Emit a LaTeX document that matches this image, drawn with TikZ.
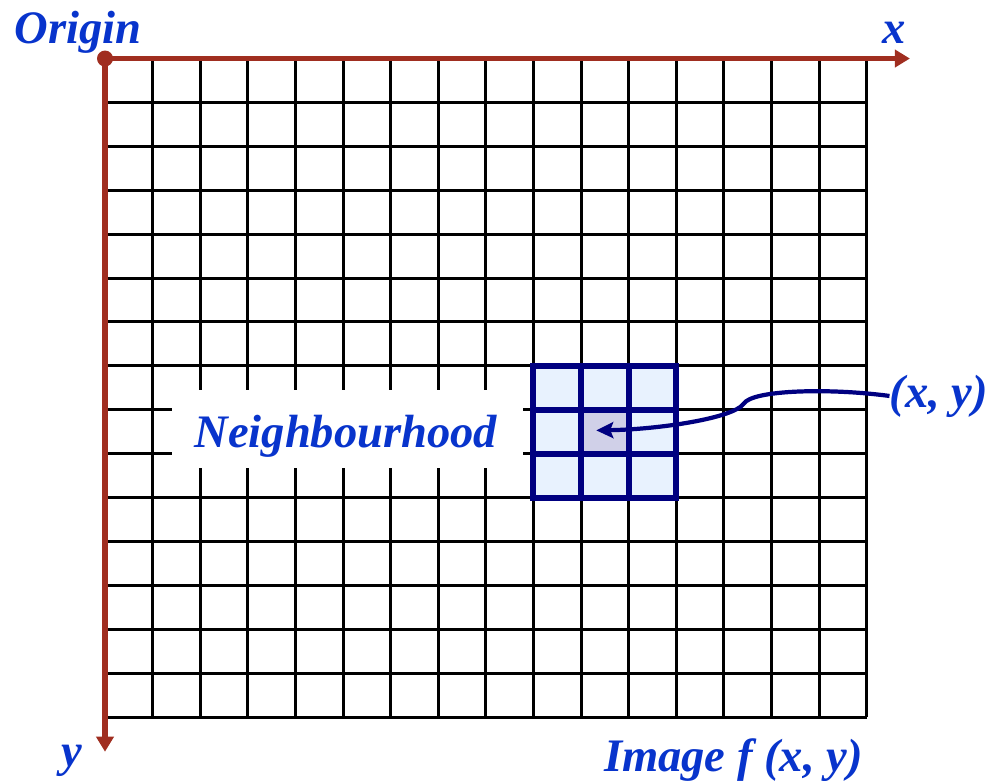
\documentclass[tikz,border=0pt]{standalone}
\usepackage{fontspec}
\setmainfont{Liberation Serif}
\usepackage{xcolor}
\usepackage{tikz}
\usetikzlibrary{arrows.meta}

\definecolor{axisred}{RGB}{160,46,32}
\definecolor{labelblue}{RGB}{8,52,204}
\definecolor{nbnavy}{RGB}{0,0,128}
\definecolor{nbfill}{RGB}{232,242,254}
\definecolor{nbcentre}{RGB}{208,208,232}

\tikzset{
  gridline/.style={line width=1.7pt, black},
  axisline/.style={line width=2.9pt, axisred, -{Triangle[length=0.3cm,width=0.34cm]}},
  nbline/.style={line width=3.4pt, nbnavy},
  biglabel/.style={labelblue, font=\fontsize{26.5}{30}\selectfont\bfseries\itshape, inner sep=0pt}
}

\begin{document}
\begin{tikzpicture}[x=0.952cm, y=-0.878cm]
\useasboundingbox (-2.206,-1.333) rectangle (18.592,16.435);

% Grid
\foreach \i in {1,...,16}
  \draw[gridline] (\i,0) -- (\i,15);
\foreach \j in {1,...,15}
  \draw[gridline] (0,\j) -- (16,\j);

% Label box
\fill[white] (1.41,7.54) rectangle (8.78,9.32);
\node[biglabel, anchor=base] (nbtext) at (5.06,8.87) {Neighbourhood};

% Neighbourhood
\fill[nbfill] (9,7) rectangle (12,10);
\fill[nbcentre] (10,8) rectangle (11,9);
\draw[nbline] (9,7) rectangle (12,10);
\draw[nbline] (10,7) -- (10,10);
\draw[nbline] (11,7) -- (11,10);
\draw[nbline] (9,8) -- (12,8);
\draw[nbline] (9,9) -- (12,9);

% Axes
\coordinate (origin) at (0,0);
\coordinate (xend) at (16.91,0);
\coordinate (yend) at (0,15.79);
\draw[axisline] (origin) -- (xend);
\draw[axisline] (origin) -- (yend);
\fill[axisred] (origin) circle (0.16cm);

\node[biglabel, anchor=base] (origintext) at (-0.56,-0.35) {Origin};
\node[biglabel, anchor=base] (xtext) at (16.58,-0.35) {x};
\node[biglabel, anchor=base] (ytext) at (-0.69,16.12) {y};
\node[biglabel, anchor=base] (imgtext) at (13.2,16.23) {Image f (x, y)};

% Pixel
\node[biglabel, anchor=base] (xytext) at (17.52,7.94) {(x, y)};
\coordinate (pixel) at (10.32,8.47);
\draw[line width=2.4pt, nbnavy, -{Stealth[length=0.34cm,width=0.32cm,inset=0.06cm]}]
  (xytext.west) .. controls (15.2,7.5) and (13.6,7.55) .. (13.42,7.86)
  .. controls (13.2,8.2) and (11.6,8.45) .. (pixel);
\end{tikzpicture}
\end{document}
